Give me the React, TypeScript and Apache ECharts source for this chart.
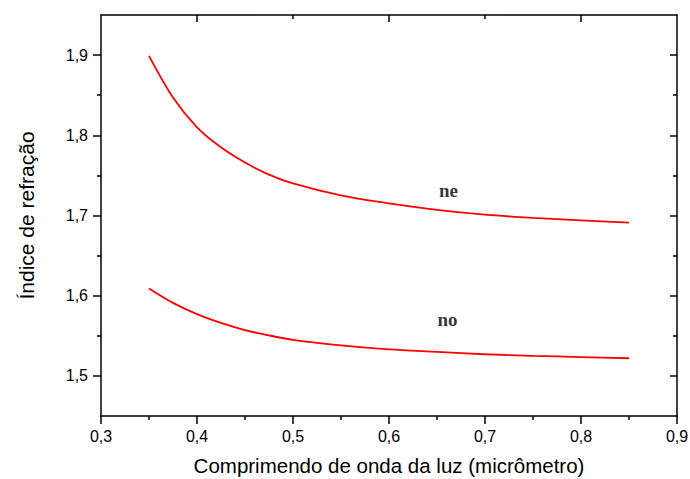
import React, { useEffect, useRef } from "react";
import * as echarts from "echarts";

// Wavelength (micrometre)
const wavelengths = [0.35, 0.375, 0.4, 0.425, 0.45, 0.475, 0.5, 0.55, 0.6, 0.65, 0.7, 0.75, 0.8, 0.85];
// Extraordinary index
const neValues = [1.899, 1.847, 1.81, 1.785, 1.766, 1.751, 1.74, 1.725, 1.715, 1.707, 1.701, 1.697, 1.694, 1.691];
// Ordinary index
const noValues = [1.609, 1.591, 1.577, 1.566, 1.557, 1.5505, 1.545, 1.538, 1.533, 1.53, 1.527, 1.525, 1.5235, 1.522];

const curveLabels = ["ne", "no"];
const curveLabelX = [0.662, 0.661];
const curveLabelY = [1.731, 1.570];

const xMajorTicks = [0.3, 0.4, 0.5, 0.6, 0.7, 0.8, 0.9];
const xMinorTicks = [0.35, 0.45, 0.55, 0.65, 0.75, 0.85];
const xTopMajorTicks = [0.4, 0.6, 0.8];
const xTopMinorTicks = [0.5, 0.7];
const yMajorTicks = [1.5, 1.6, 1.7, 1.8, 1.9];
const yMinorTicks = [1.55, 1.65, 1.75, 1.85];

const X_MIN = 0.3, X_MAX = 0.9, Y_MIN = 1.45, Y_MAX = 1.95;

const fmt = (v: number) => v.toFixed(1).replace(".", ",");

export default function App() {
  const ref = useRef<HTMLDivElement>(null);
  useEffect(() => {
    document.body.style.margin = "0";
    if (!ref.current) return;
    const chart = echarts.init(ref.current, null, { renderer: "svg" });
    const lineStyle = { color: "#000", width: 1.5 };
    const baseX = { type: "value", min: X_MIN, max: X_MAX, splitLine: { show: false } };
    const baseY = { type: "value", min: Y_MIN, max: Y_MAX, splitLine: { show: false } };
    const hidden = { show: false };
    const curve = {
      type: "line",
      smooth: 0.3,
      showSymbol: false,
      lineStyle: { color: "#ff0000", width: 1.8 },
      itemStyle: { color: "#ff0000" },
    };
    chart.setOption({
      animation: false,
      backgroundColor: "#fff",
      grid: { left: 101, right: 13, top: 15, bottom: 63, outerBoundsMode: "none", containLabel: false },
      xAxis: [
        {
          ...baseX,
          position: "bottom",
          name: "Comprimendo de onda da luz (micrômetro)",
          nameLocation: "middle",
          nameGap: 39,
          nameTextStyle: { fontFamily: "Liberation Sans, Arial", fontSize: 20.5, color: "#000" },
          axisLine: { show: true, onZero: false, lineStyle },
          axisTick: { show: true, inside: false, length: 8, customValues: xMajorTicks, lineStyle },
          axisLabel: {
            show: true, margin: 12, customValues: xMajorTicks, formatter: fmt,
            fontFamily: "Liberation Sans, Arial", fontSize: 16, color: "#000",
          },
        },
        {
          ...baseX,
          position: "bottom",
          axisLine: hidden,
          axisTick: { show: true, inside: false, length: 4, customValues: xMinorTicks, lineStyle },
          axisLabel: hidden,
        },
        {
          ...baseX,
          position: "top",
          axisLine: { show: true, onZero: false, lineStyle },
          axisTick: { show: true, inside: true, length: 7, customValues: xTopMajorTicks, lineStyle },
          axisLabel: hidden,
        },
        {
          ...baseX,
          position: "top",
          axisLine: hidden,
          axisTick: { show: true, inside: true, length: 4, customValues: xTopMinorTicks, lineStyle },
          axisLabel: hidden,
        },
      ],
      yAxis: [
        {
          ...baseY,
          position: "left",
          name: "Índice de refração",
          nameLocation: "middle",
          nameGap: 64,
          nameTextStyle: { fontFamily: "Liberation Sans, Arial", fontSize: 21, color: "#000" },
          axisLine: { show: true, onZero: false, lineStyle },
          axisTick: { show: true, inside: false, length: 8, customValues: yMajorTicks, lineStyle },
          axisLabel: {
            show: true, margin: 13, customValues: yMajorTicks, formatter: fmt,
            fontFamily: "Liberation Sans, Arial", fontSize: 16, color: "#000",
          },
        },
        {
          ...baseY,
          position: "left",
          axisLine: hidden,
          axisTick: { show: true, inside: false, length: 4, customValues: yMinorTicks, lineStyle },
          axisLabel: hidden,
        },
        {
          ...baseY,
          position: "right",
          axisLine: { show: true, onZero: false, lineStyle },
          axisTick: { show: true, inside: true, length: 7, customValues: yMajorTicks, lineStyle },
          axisLabel: hidden,
        },
        {
          ...baseY,
          position: "right",
          axisLine: hidden,
          axisTick: { show: true, inside: true, length: 4, customValues: yMinorTicks, lineStyle },
          axisLabel: hidden,
        },
      ],
      series: [
        { ...curve, name: "ne", data: wavelengths.map((w, i) => [w, neValues[i]]) },
        { ...curve, name: "no", data: wavelengths.map((w, i) => [w, noValues[i]]) },
        {
          name: "labels",
          type: "scatter",
          symbolSize: 0,
          silent: true,
          label: {
            show: true,
            position: "inside",
            formatter: (p: any) => p.name,
            fontFamily: "Liberation Serif, Times New Roman",
            fontWeight: "bold",
            fontSize: 19,
            color: "#000",
          },
          data: curveLabels.map((n, i) => ({ name: n, value: [curveLabelX[i], curveLabelY[i]] })),
        },
      ],
    });
    return () => chart.dispose();
  }, []);
  return <div ref={ref} style={{ width: 690, height: 479 }} />;
}
